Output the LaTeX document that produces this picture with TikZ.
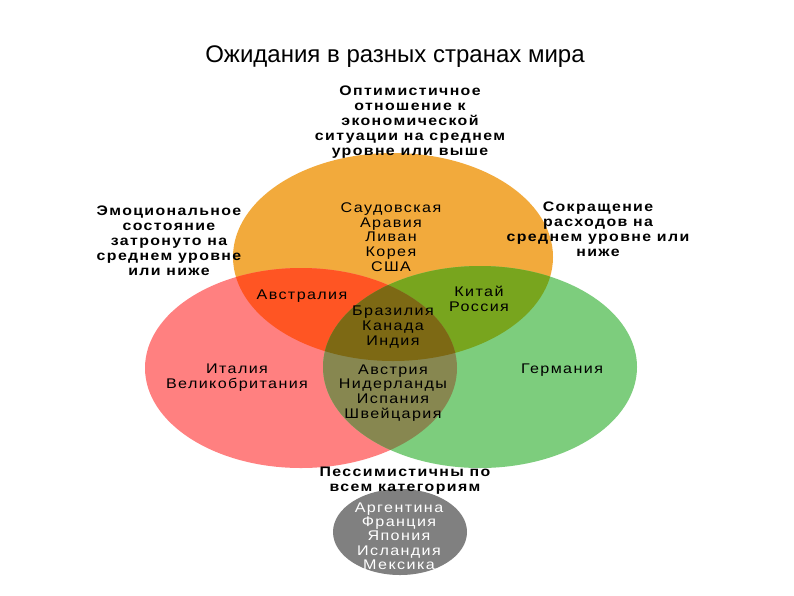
\documentclass[tikz,border=0pt]{standalone}
\usepackage{fontspec}
\setmainfont{Liberation Sans}
\newfontfamily\lbl[LetterSpace=10,FakeStretch=1.15]{Liberation Sans}
\newfontfamily\lblb[LetterSpace=10,FakeStretch=1.15]{Liberation Sans Bold}
\definecolor{cOr}{RGB}{242,170,60}
\definecolor{cRe}{RGB}{255,128,128}
\definecolor{cGr}{RGB}{125,205,125}
\definecolor{cOR}{RGB}{255,85,35}
\definecolor{cOG}{RGB}{120,165,30}
\definecolor{cRG}{RGB}{135,135,80}
\definecolor{cORG}{RGB}{125,105,20}
\definecolor{cGrey}{RGB}{128,128,128}
\begin{document}
\begin{tikzpicture}[x=1pt,y=-1pt,
  outer/.style={align=center,font=\lblb\fontsize{13.8}{15}\selectfont,inner sep=0pt},
  inner/.style={align=center,font=\lbl\fontsize{14}{14.8}\selectfont,inner sep=0pt},
  grey/.style={align=center,font=\lbl\fontsize{14}{14.3}\selectfont,text=white,inner sep=0pt}]
\useasboundingbox (0,0) rectangle (794,595);
\fill[white] (0,0) rectangle (794,595);
\def\eO{(393,257) ellipse [x radius=160,y radius=104]}
\def\eR{(301,368) ellipse [x radius=156,y radius=100]}
\def\eG{(480,367) ellipse [x radius=157,y radius=101]}
\fill[cOr] \eO;
\fill[cRe] \eR;
\fill[cGr] \eG;
\begin{scope}\clip \eO; \fill[cOR] \eR; \end{scope}
\begin{scope}\clip \eO; \fill[cOG] \eG; \end{scope}
\begin{scope}\clip \eR; \fill[cRG] \eG; \end{scope}
\begin{scope}\clip \eO; \clip \eR; \fill[cORG] \eG; \end{scope}
\fill[cGrey] (400,532) ellipse [x radius=67,y radius=43];
\node (title) at (395,57) {\fontsize{24}{26}\selectfont Ожидания в разных странах мира};
\node[outer] (top) at (410,122) {Оптимистичное\\отношение к\\экономической\\ситуации на среднем\\уровне или выше};
\node[outer] (left) at (169,241) {Эмоциональное\\состояние\\затронуто на\\среднем уровне\\или ниже};
\node[outer] (right) at (598,229) {Сокращение\\расходов на\\среднем уровне или\\ниже};
\node[inner] (o) at (391,237) {Саудовская\\Аравия\\Ливан\\Корея\\США};
\node[inner] (or) at (302,296) {Австралия};
\node[inner] (og) at (479,299) {Китай\\Россия};
\node[inner] (org) at (393,327) {Бразилия\\Канада\\Индия};
\node[inner] (r) at (237,378) {Италия\\Великобритания};
\node[inner] (rg) at (393,393) {Австрия\\Нидерланды\\Испания\\Швейцария};
\node[inner] (g) at (562,370) {Германия};
\node[outer] (pess) at (405,481) {Пессимистичны по\\всем категориям};
\node[grey] (gr) at (399,536) {Аргентина\\Франция\\Япония\\Исландия\\Мексика};
\end{tikzpicture}
\end{document}
